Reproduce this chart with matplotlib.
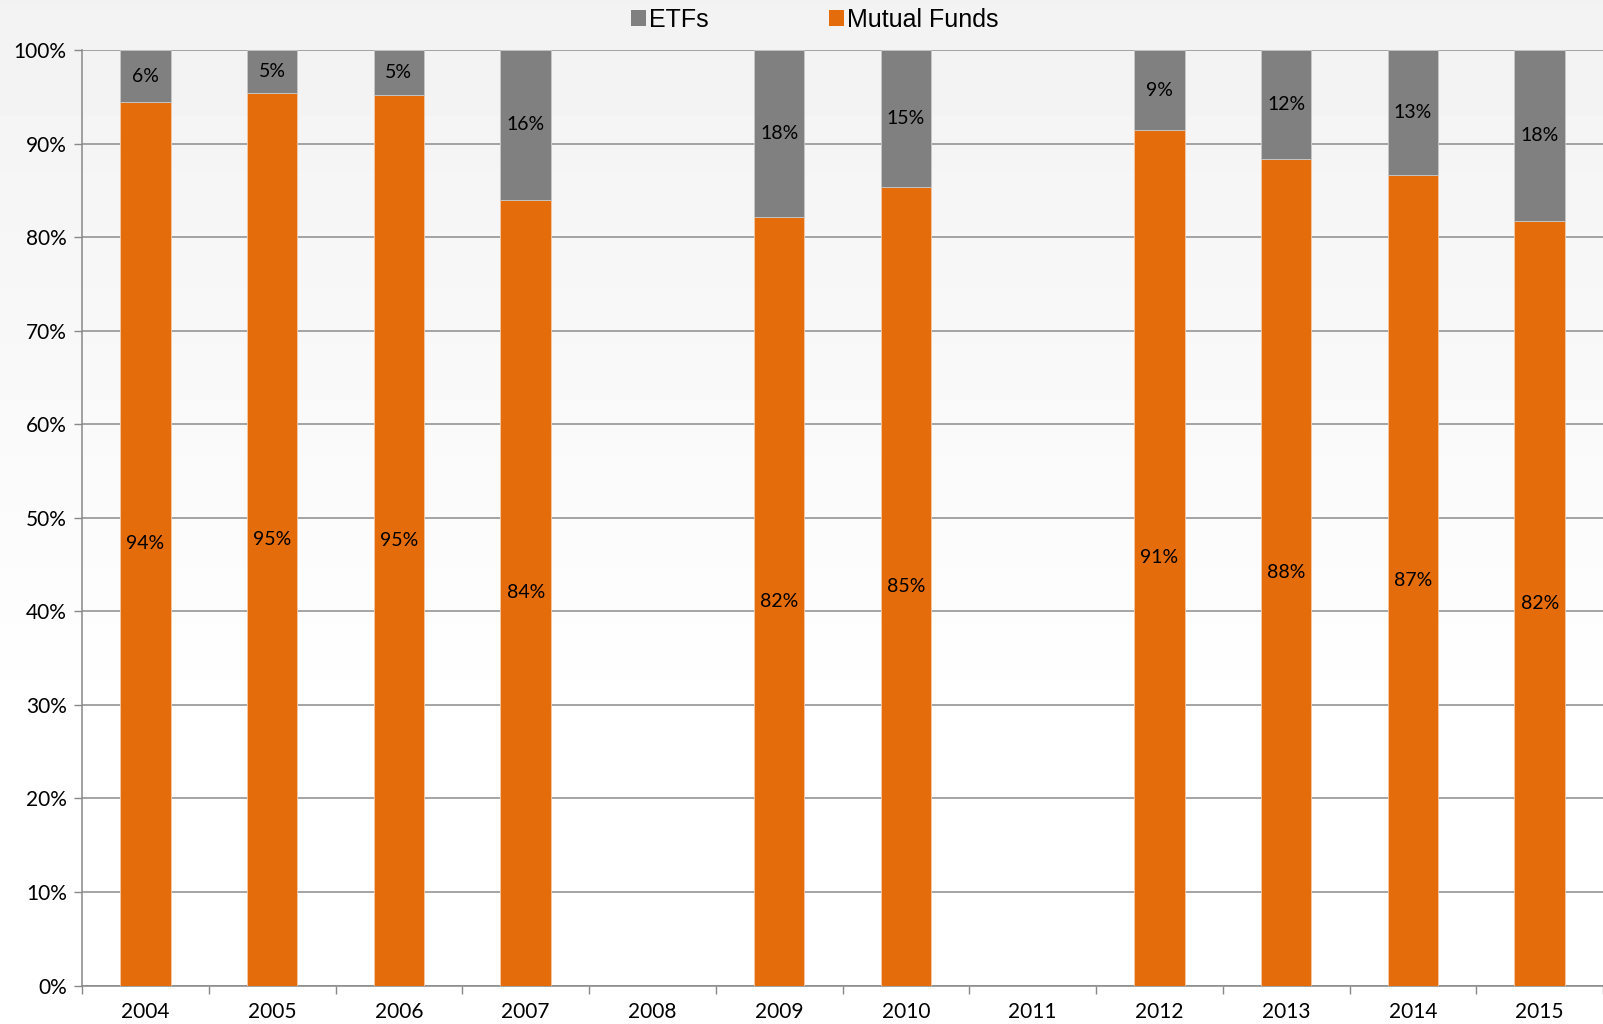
import numpy as np
import matplotlib
matplotlib.use("Agg")
import matplotlib.pyplot as plt
from matplotlib.patches import Patch

years = ["2004", "2005", "2006", "2007", "2008", "2009", "2010", "2011", "2012", "2013", "2014", "2015"]
mutual_funds = [94.4, 95.4, 95.2, 84.0, np.nan, 82.2, 85.4, np.nan, 91.4, 88.3, 86.6, 81.7]
etfs = [5.6, 4.6, 4.8, 16.0, np.nan, 17.8, 14.6, np.nan, 8.6, 11.7, 13.4, 18.3]
y_ticks = [0, 10, 20, 30, 40, 50, 60, 70, 80, 90, 100]

ORANGE = "#e46c0a"
GREY = "#808080"
W, H = 1603, 1024
fig = plt.figure(figsize=(W / 100, H / 100), dpi=100)

# background gradient
bg = fig.add_axes([0, 0, 1, 1], zorder=-10)
rows = np.linspace(0, 1, 256)
shade = np.clip(0.949 + (1 - 0.949) * (rows / 0.72), 0.949, 1.0)
img = np.repeat(shade[:, None], 2, axis=1)
bg.imshow(img, cmap="gray", vmin=0, vmax=1, aspect="auto", extent=[0, 1, 1, 0])
bg.set_axis_off()

left, right, top, bottom = 82, 1603, 50, 985.5
ax = fig.add_axes([left / W, 1 - bottom / H, (right - left) / W, (bottom - top) / H])
ax.patch.set_alpha(0)

x = np.arange(len(years))
mf = np.array(mutual_funds)
ef = np.array(etfs)
bw = 0.4
ax.bar(x, mf, width=bw, color=ORANGE, edgecolor="#f5c9a8", linewidth=0.6, zorder=3)
ax.bar(x, ef, width=bw, bottom=mf, color=GREY, edgecolor="#c8c8c8", linewidth=0.6, zorder=3)

lab_font = dict(family="Lato", fontsize=14, color="#000000")
for i in range(len(years)):
    if np.isnan(mf[i]):
        continue
    ax.text(x[i], mf[i] / 2, f"{mf[i]:.0f}%", ha="center", va="center", zorder=5, **lab_font)
    ax.text(x[i], mf[i] + ef[i] / 2, f"{ef[i]:.0f}%", ha="center", va="center", zorder=5, **lab_font)

ax.set_xlim(-0.5, len(years) - 0.5)
ax.set_ylim(0, 100)
ax.set_yticks(y_ticks)
ax.set_yticklabels([f"{t}%" for t in y_ticks], family="Lato", fontsize=15)
ax.set_xticks(x)
ax.set_xticklabels(years, family="Lato", fontsize=15)
ax.set_xticks(np.arange(-0.5, len(years), 1), minor=True)
ax.tick_params(axis="x", which="major", length=0, pad=12)
ax.tick_params(axis="x", which="minor", length=6, width=1, color="#888888")
ax.tick_params(axis="y", length=6, width=1, color="#888888", pad=5)
ax.grid(axis="y", color="#8c8c8c", linewidth=1.1, zorder=0)
for s in ["top", "right"]:
    ax.spines[s].set_visible(False)
for s in ["left", "bottom"]:
    ax.spines[s].set_color("#888888")
    ax.spines[s].set_linewidth(1.1)
ax.set_axisbelow(True)

handles = [Patch(facecolor=GREY, edgecolor="none"), Patch(facecolor=ORANGE, edgecolor="none")]
fig.legend(handles, ["ETFs", "Mutual Funds"], loc="center", bbox_to_anchor=(815 / W, 1 - 20 / H),
           ncol=2, frameon=False, handlelength=0.6, handleheight=0.6, handletextpad=0.12,
           columnspacing=4.8, prop=dict(family="Liberation Sans", size=18))

fig.savefig("out.png", dpi=100)
